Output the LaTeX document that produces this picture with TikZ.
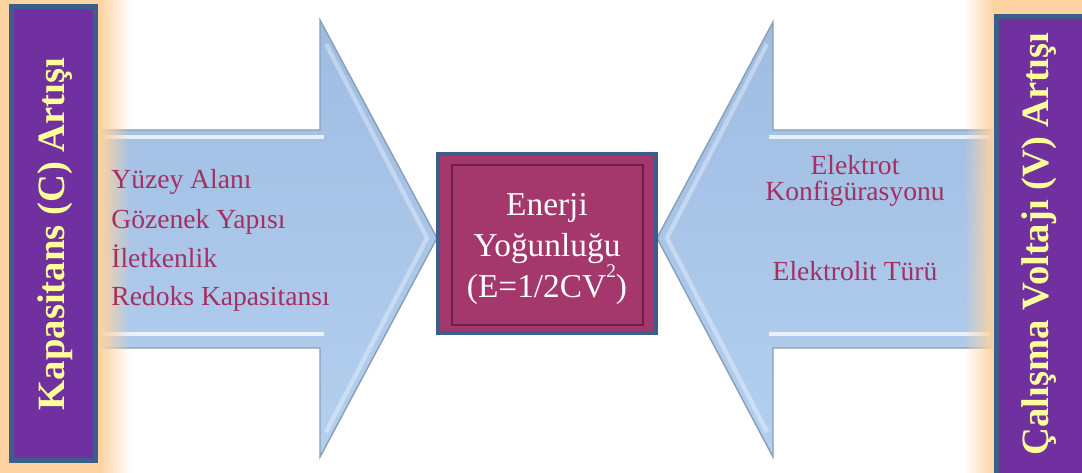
\documentclass[tikz,border=0pt]{standalone}
\usepackage{fontspec}
\setmainfont{Liberation Serif}
\usetikzlibrary{fadings}

\definecolor{barpurple}{RGB}{112,48,160}
\definecolor{barframe}{RGB}{59,94,138}
\definecolor{bartext}{RGB}{255,255,153}
\definecolor{glow}{RGB}{253,211,161}
\definecolor{arrowtop}{RGB}{158,188,226}
\definecolor{arrowbot}{RGB}{180,208,240}
\definecolor{arrowedge}{RGB}{138,158,182}
\definecolor{listtext}{RGB}{163,48,96}
\definecolor{boxfill}{RGB}{164,55,107}
\definecolor{boxinner}{RGB}{112,32,72}

\tikzfading[name=fadeleft,left color=transparent!0,right color=transparent!100]
\tikzfading[name=faderight,left color=transparent!100,right color=transparent!0]

\begin{document}
\begin{tikzpicture}[x=0.02cm,y=-0.02cm]
  \tikzstyle{bigarrow}=[top color=arrowtop,bottom color=arrowbot,draw=arrowedge,line width=0.8pt]
  \tikzstyle{bevel}=[white,line width=2.5pt,opacity=0.75]
  \tikzstyle{bar}=[fill=barpurple,draw=barframe,line width=2.8pt]
  \tikzstyle{bartitle}=[text=bartext,font=\bfseries\fontsize{22}{26}\selectfont,inner sep=0pt,rotate=90]
  \tikzstyle{listitem}=[text=listtext,font=\fontsize{15.7}{18}\selectfont,inner sep=0pt]

  \useasboundingbox (0,0) rectangle (1082,473);
  \fill[white] (0,0) rectangle (1082,473);

  % Left arrow
  \path[bigarrow] (95,130) -- (320,130) -- (320,20) -- (437,238) -- (320,457) -- (320,348) -- (95,348) -- cycle;
  \draw[bevel] (102,137) -- (324,137);
  \draw[bevel] (102,334) -- (324,334);
  \draw[bevel,opacity=0.35] (326,44) -- (427,238) -- (326,432);

  % Right arrow
  \path[bigarrow] (992,130) -- (773,130) -- (773,22) -- (657,238) -- (773,457) -- (773,348) -- (992,348) -- cycle;
  \draw[bevel] (769,137) -- (990,137);
  \draw[bevel] (769,334) -- (990,334);
  \draw[bevel,opacity=0.35] (767,44) -- (667,238) -- (767,432);

  % Glow behind the bars
  \fill[glow] (0,0) rectangle (100,473);
  \fill[glow,path fading=fadeleft] (100,0) rectangle (130,473);
  \fill[glow] (994,0) rectangle (1082,473);
  \fill[glow,path fading=faderight] (964,0) rectangle (994,473);

  % Side bars
  \path[bar] (11.5,6.5) rectangle (95.5,460.5);
  \path[bar] (996.5,16.5) rectangle (1090,480);
  \node[bartitle] (capacity) at (55,234) {Kapasitans (C) Artışı};
  \node[bartitle] (voltage) at (1039,244) {Çalışma Voltajı (V) Artışı};

  % Centre box
  \path[fill=boxfill,draw=barframe,line width=2.3pt] (438,154) rectangle (656,333);
  \draw[boxinner,line width=0.8pt] (452,165) rectangle (643,325);
  \draw[boxinner,line width=1.6pt] (643,165) -- (643,325) -- (452,325);
  \node[align=center,text=white,font=\fontsize{19}{23.5}\selectfont,inner sep=0pt] (energy) at (547,249)
    {Enerji\\Yoğunluğu\\(E=1/2CV\raisebox{0.62em}{\fontsize{11}{11}\selectfont 2})};

  % Arrow texts
  \node[listitem,anchor=base west] (surface) at (111,188) {Yüzey Alanı};
  \node[listitem,anchor=base west] (pores) at (111,228) {Gözenek Yapısı};
  \node[listitem,anchor=base west] (conduct) at (111,267) {İletkenlik};
  \node[listitem,anchor=base west] (redox) at (111,305) {Redoks Kapasitansı};
  \node[listitem,align=center,font=\fontsize{15.7}{14.5}\selectfont] (electrode) at (855,181) {Elektrot\\Konfigürasyonu};
  \node[listitem,anchor=base] (electrolyte) at (855,280) {Elektrolit Türü};
\end{tikzpicture}
\end{document}
